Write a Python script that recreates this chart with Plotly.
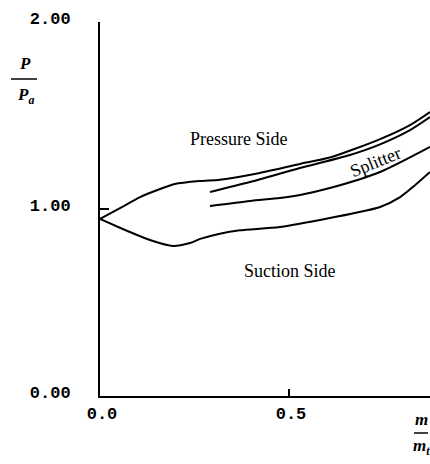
import plotly.graph_objects as go

# Main blade pressure side (upper curve)
ps_m = [0.0, 0.053, 0.106, 0.159, 0.198, 0.265, 0.317, 0.423, 0.529, 0.608, 0.741, 0.820, 0.873]
ps_p = [0.947, 1.005, 1.064, 1.107, 1.134, 1.150, 1.157, 1.193, 1.241, 1.275, 1.374, 1.449, 1.519]

# Splitter, upper surface
sp_up_m = [0.291, 0.397, 0.529, 0.661, 0.741, 0.820, 0.873]
sp_up_p = [1.091, 1.144, 1.219, 1.289, 1.346, 1.422, 1.492]

# Splitter, lower surface
sp_lo_m = [0.291, 0.397, 0.476, 0.529, 0.608, 0.741, 0.873]
sp_lo_p = [1.016, 1.043, 1.059, 1.075, 1.112, 1.198, 1.332]

# Main blade suction side (lower curve)
ss_m = [0.0, 0.079, 0.132, 0.193, 0.238, 0.265, 0.317, 0.370, 0.476, 0.608, 0.741, 0.794, 0.828, 0.873]
ss_p = [0.947, 0.877, 0.834, 0.802, 0.818, 0.840, 0.868, 0.886, 0.904, 0.952, 1.011, 1.064, 1.118, 1.198]

y_ticks = [0, 1, 2]
y_tick_labels = ["0.00", "1.00", "2.00"]
x_ticks = [0, 0.5]
x_tick_labels = ["0.0", "0.5"]

W, H = 430, 464
ml, mr, mt, mb = 100, 0, 22, 68
pw, ph = W - ml - mr, H - mt - mb


def px(x):
    return (x - ml) / pw


def py_(y):
    return (H - mb - y) / ph


fig = go.Figure()
line = dict(color="black", width=2, shape="spline", smoothing=0.7)
for mx, pv in [(ps_m, ps_p), (sp_up_m, sp_up_p), (sp_lo_m, sp_lo_p), (ss_m, ss_p)]:
    fig.add_trace(go.Scatter(x=mx, y=pv, mode="lines", line=line, showlegend=False, hoverinfo="skip"))

serif = "Liberation Serif"
mono = dict(family="Liberation Mono", size=17, color="black", weight="bold")
lfont = dict(family=serif, size=18, color="black")

fig.add_annotation(x=0.368, y=1.374, text="Pressure Side", showarrow=False, font=lfont)
fig.add_annotation(x=0.503, y=0.668, text="Suction Side", showarrow=False, font=lfont)
fig.add_annotation(x=0.728, y=1.251, text="Splitter", showarrow=False, textangle=-22, font=lfont)

# Axis titles as fractions (pixel positions converted to paper coordinates)
tfont = dict(family=serif, size=17, color="black", style="italic", weight="bold")
for tx, ty, txt in [(25, 63, "P"), (25, 96, "P<sub>a</sub>"),
                    (421, 419, "m"), (421, 447, "m<sub>t</sub>")]:
    fig.add_annotation(x=px(tx), y=py_(ty), xref="paper", yref="paper", text=txt,
                       showarrow=False, xanchor="center", yanchor="middle", font=tfont)

fig.add_shape(type="line", xref="paper", yref="paper", x0=px(11), x1=px(37), y0=py_(79), y1=py_(79),
              line=dict(color="black", width=1.5))
fig.add_shape(type="line", xref="paper", yref="paper", x0=px(414), x1=px(428), y0=py_(433), y1=py_(433),
              line=dict(color="black", width=1.5))

fig.update_layout(
    width=W, height=H,
    margin=dict(l=ml, r=mr, t=mt, b=mb),
    paper_bgcolor="white", plot_bgcolor="white",
    xaxis=dict(range=[0, 0.873], tickvals=x_ticks, ticktext=x_tick_labels,
               ticks="inside", ticklen=7, tickwidth=2, tickcolor="black",
               showline=True, linecolor="black", linewidth=2, showgrid=False, zeroline=False,
               tickfont=mono, ticklabelstandoff=1, ticklabelshift=2),
    yaxis=dict(range=[0, 2], tickvals=y_ticks, ticktext=y_tick_labels,
               ticks="inside", ticklen=9, tickwidth=2, tickcolor="black",
               showline=True, linecolor="black", linewidth=2, showgrid=False, zeroline=False,
               tickfont=mono, ticklabelstandoff=24, ticklabelshift=-4),
)

fig.write_html("out.html")
